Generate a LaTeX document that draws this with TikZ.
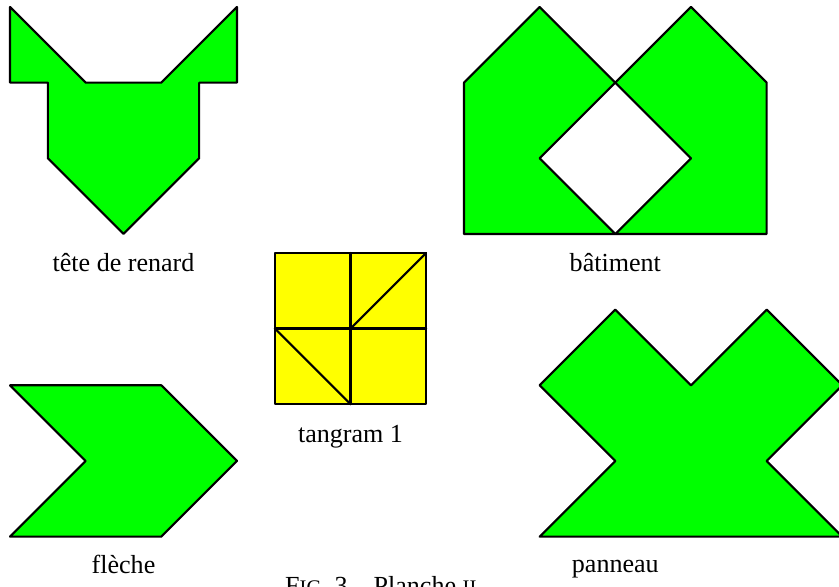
\documentclass[tikz,border=0pt]{standalone}
\usepackage{fontspec}
\setmainfont{Liberation Serif}
\begin{document}
\begin{tikzpicture}[line cap=round, line join=round,
    piece/.style={draw=black, line width=0.8pt, fill={rgb,255:red,0;green,255;blue,0}},
    tan/.style={draw=black, line width=0.8pt, fill={rgb,255:red,255;green,255;blue,0}},
    cut/.style={line width=0.8pt},
    lbl/.style={inner sep=0pt, anchor=base, font=\fontsize{9.8}{12}\selectfont}]
  \useasboundingbox (-0.1322,-4.665) rectangle (10.956,3.0924);
  % tete de renard
  \draw[piece] (0,3) -- (0,2) -- (0.5,2) -- (0.5,1) -- (1.5,0) -- (2.5,1)
    -- (2.5,2) -- (3,2) -- (3,3) -- (2,2) -- (1,2) -- cycle;
  \node[lbl] (renard) at (1.5,-0.5) {tête de renard};
  % batiment
  \begin{scope}[xshift=6cm]
    \draw[piece] (0,0) -- (0,2) -- (1,3) -- (2,2) -- (1,1) -- (2,0) -- cycle;
    \draw[piece] (2,0) -- (3,1) -- (2,2) -- (3,3) -- (4,2) -- (4,0) -- cycle;
    \node[lbl] (batiment) at (2,-0.5) {bâtiment};
  \end{scope}
  % tangram 1
  \begin{scope}[xshift=3.5cm, yshift=-2.25cm]
    \draw[tan] (0,0) rectangle (2,2);
    \draw[cut] (1,0) -- (1,2);
    \draw[cut] (0,1) -- (2,1);
    \draw[cut] (1,1) -- (2,2);
    \draw[cut] (0,1) -- (1,0);
    \node[lbl] (tangram) at (1,-0.5) {tangram 1};
  \end{scope}
  % fleche
  \begin{scope}[yshift=-4cm]
    \draw[piece] (0,2) -- (2,2) -- (3,1) -- (2,0) -- (0,0) -- (1,1) -- cycle;
    \node[lbl] (fleche) at (1.5,-0.49) {flèche};
  \end{scope}
  % panneau
  \begin{scope}[xshift=7cm, yshift=-4cm]
    \draw[piece] (1,3) -- (2,2) -- (3,3) -- (4,2) -- (3,1) -- (4,0)
      -- (0,0) -- (1,1) -- (0,2) -- cycle;
    \node[lbl] (panneau) at (1,-0.47) {panneau};
  \end{scope}
  \node[lbl] (legende) at (4.9,-4.77)
    {F{\fontsize{7.8}{9}\selectfont IG}. 3 -- Planche {\fontsize{7.8}{9}\selectfont II}};
\end{tikzpicture}
\end{document}
